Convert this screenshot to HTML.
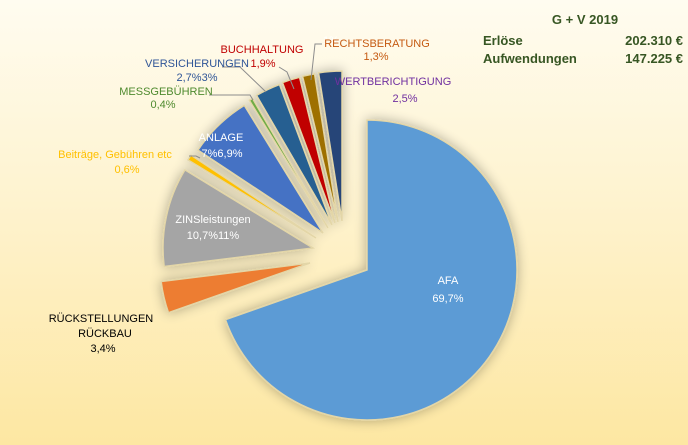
<!DOCTYPE html>
<html><head><meta charset="utf-8"><style>
html,body{margin:0;padding:0}
body{width:688px;height:445px;overflow:hidden;background:linear-gradient(180deg,#fffcf0 0%,#fef3cf 45%,#fde7a2 100%);font-family:"Liberation Sans",sans-serif}
svg{position:absolute;left:0;top:0}
</style></head><body>
<svg id="s" width="688" height="445" xmlns="http://www.w3.org/2000/svg">
<defs><filter id="sh" x="-20%" y="-20%" width="140%" height="140%"><feGaussianBlur in="SourceAlpha" stdDeviation="6"/><feComponentTransfer><feFuncA type="linear" slope="0.3"/></feComponentTransfer><feMerge><feMergeNode/><feMergeNode in="SourceGraphic"/></feMerge></filter></defs>
<g id="pie" filter="url(#sh)"></g>
<g stroke="#8c8c8c" stroke-width="1" fill="none">
<polyline points="189,156 196,156 200,158"/>
<polyline points="209,95 250,95 253,100"/>
<polyline points="222,67 240,67 266,92"/>
<polyline points="279,67 287,72 294,89"/>
<polyline points="322,44 315,44 311,80"/>
</g>
<g font-size="11" text-anchor="middle">
<text x="448" y="284" fill="#fff">AFA</text><text x="448" y="302" fill="#fff">69,7%</text>
<text x="101" y="322" fill="#000">RÜCKSTELLUNGEN</text><text x="105" y="337" fill="#000">RÜCKBAU</text><text x="103" y="352" fill="#000">3,4%</text>
<text x="213" y="223" fill="#fff">ZINSleistungen</text><text x="213" y="239" fill="#fff">10,7%11%</text>
<text x="115" y="158" fill="#ffc000">Beiträge, Gebühren etc</text><text x="127" y="173" fill="#ffc000">0,6%</text>
<text x="221" y="141" fill="#fff">ANLAGE</text><text x="222" y="157" fill="#fff">7%6,9%</text>
<text x="166" y="95" fill="#4e8a2e">MESSGEBÜHREN</text><text x="163" y="108" fill="#4e8a2e">0,4%</text>
<text x="197" y="67" fill="#2f5597">VERSICHERUNGEN</text><text x="197" y="81" fill="#2f5597">2,7%3%</text>
<text x="262" y="53" fill="#c00000">BUCHHALTUNG</text><text x="263" y="67" fill="#c00000">1,9%</text>
<text x="331" y="44" fill="#fff">1%</text>
<text x="377" y="47" fill="#c55a11">RECHTSBERATUNG</text><text x="376" y="60" fill="#c55a11">1,3%</text>
<text x="393" y="85" fill="#7030a0">WERTBERICHTIGUNG</text><text x="405" y="102" fill="#7030a0">2,5%</text>
</g>
<g font-size="13" font-weight="bold" fill="#375623">
<text x="585" y="24" text-anchor="middle">G + V 2019</text>
<text x="483" y="45">Erlöse</text><text x="683" y="45" text-anchor="end">202.310 €</text>
<text x="483" y="63">Aufwendungen</text><text x="683" y="63" text-anchor="end">147.225 €</text>
</g>
</svg>
<script>
var data=[[69.7,"#5b9bd5",367,270],[3.4,"#ed7d31",310,263],[10.7,"#a5a5a5",313,248],[0.6,"#ffc000",316,238],[6.9,"#4472c4",323,233],[0.4,"#70ad47",328,228],[2.7,"#255e91",332,225],[1.9,"#c00000",335,223],[1.3,"#9e7000",338,222],[2.5,"#264478",342,221]];
var tot=0;data.forEach(function(d){tot+=d[0]});
var r=150,a=0,g=document.getElementById('pie'),s="";
function pt(x,y,ang){return [x+r*Math.sin(ang),y-r*Math.cos(ang)];}
data.forEach(function(d){
 var sw=d[0]/tot*2*Math.PI,x=d[2],y=d[3];
 var p1=pt(x,y,a),p2=pt(x,y,a+sw);
 s+='<path d="M'+x+','+y+' L'+p1[0]+','+p1[1]+' A'+r+','+r+' 0 '+(sw>Math.PI?1:0)+' 1 '+p2[0]+','+p2[1]+' Z" fill="'+d[1]+'" stroke="#e3d6a8" stroke-width="1.5"/>';
 a+=sw;
});
g.innerHTML=s;
</script>
</body></html>
